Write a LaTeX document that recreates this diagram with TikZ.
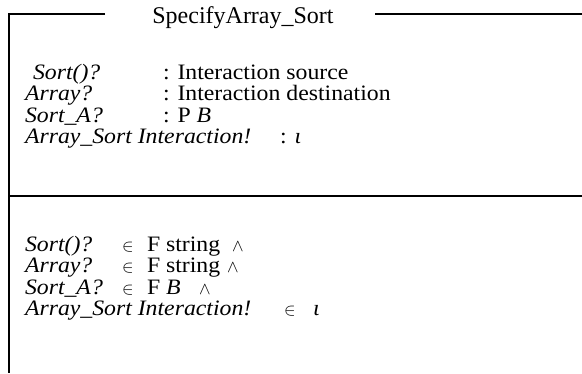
\documentclass[tikz,border=0pt]{standalone}
\usepackage{fontspec}
\setmainfont{Liberation Serif}
\newfontfamily\bodyfont{Liberation Serif}[FakeStretch=1.08]
\newcommand{\zelem}{{\fontsize{19}{19}\selectfont$\in$}}
\newcommand{\zconj}{{\fontsize{18}{18}\selectfont$\wedge$}}
\begin{document}
\begin{tikzpicture}[x=1pt,y=-1pt,
  frame/.style={line width=2pt,black},
  txt/.style={anchor=base west,inner sep=0pt,outer sep=0pt,
              font=\bodyfont\fontsize{22}{22}\selectfont},
  var/.style={txt,font=\bodyfont\fontsize{22}{22}\selectfont\itshape},
  title/.style={anchor=base,inner sep=0pt,font=\fontsize{24}{24}\selectfont}]
\useasboundingbox (0,0) rectangle (582,373);

% schema frame
\coordinate (tl) at (9,14);
\coordinate (bl) at (9,373);
\coordinate (gapl) at (105,14);
\coordinate (gapr) at (375,14);
\coordinate (tr) at (582,14);
\coordinate (divl) at (9,195.5);
\coordinate (divr) at (582,195.5);
\draw[frame] (gapl) -- (tl) -- (bl);
\draw[frame] (gapr) -- (tr);
\draw[frame] (divl) -- (divr);

% schema name
\node[title] (name) at (243,23) {SpecifyArray\_Sort};

% declarations
\node[var] (d1) at (33,79) {Sort()?};
\node[txt] (t1) at (163,79) {: Interaction source};
\node[var] (d2) at (25,100.5) {Array?};
\node[txt] (t2) at (163,100.5) {: Interaction destination};
\node[var] (d3) at (25,122) {Sort\_A?};
\node[txt] (t3) at (163,122) {: P \textit{B}};
\node[var] (d4) at (25,143.5) {Array\_Sort Interaction!};
\node[txt] (t4) at (280,143.5) {: \textit{ι}};

% predicates
\node[var] (p1) at (25,251) {Sort()?};
\node[txt] (e1) at (122,251) {\zelem};
\node[txt] (f1) at (147,251) {F string};
\node[txt] (a1) at (232,251) {\zconj};

\node[var] (p2) at (25,272.5) {Array?};
\node[txt] (e2) at (122,272.5) {\zelem};
\node[txt] (f2) at (147,272.5) {F string};
\node[txt] (a2) at (227,272.5) {\zconj};

\node[var] (p3) at (25,294) {Sort\_A?};
\node[txt] (e3) at (122,294) {\zelem};
\node[txt] (f3) at (147,294) {F \textit{B}};
\node[txt] (a3) at (199,294) {\zconj};

\node[var] (p4) at (25,315.5) {Array\_Sort Interaction!};
\node[txt] (e4) at (284,315.5) {\zelem};
\node[txt] (f4) at (313,315.5) {\textit{ι}};
\end{tikzpicture}
\end{document}
